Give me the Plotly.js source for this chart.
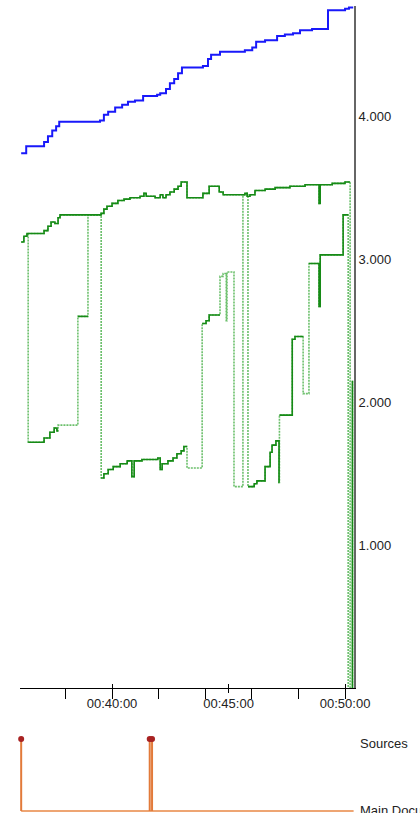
<!DOCTYPE html>
<html>
<head>
<meta charset="utf-8">
<script src="https://cdn.plot.ly/plotly-3.0.1.min.js"></script>
<style>
  html, body { margin: 0; padding: 0; background: #fff; overflow: hidden; }
  #chart { width: 420px; height: 813px; }
</style>
</head>
<body>
<div id="chart"></div>
<script>
// ---------- DATA ----------
const DAY = '2000-01-01 ';

// Blue series (step)
const blueTime = ['00:36:06','00:36:19','00:37:05','00:37:15','00:37:26','00:37:36','00:37:44','00:39:29','00:39:39','00:39:50',
  '00:40:08','00:40:26','00:40:41','00:40:59','00:41:20','00:41:56','00:42:04','00:42:19','00:42:29','00:42:40',
  '00:42:50','00:43:00','00:43:54','00:44:07','00:44:15','00:44:38','00:45:42','00:46:01','00:46:11','00:46:34',
  '00:47:05','00:47:25','00:47:46','00:48:04','00:48:35','00:49:16','00:50:00','00:50:10','00:50:21'];
const blueVal = [3.74,3.79,3.82,3.86,3.90,3.93,3.96,3.97,4.01,4.03,
  4.06,4.08,4.10,4.11,4.14,4.15,4.16,4.19,4.23,4.26,
  4.30,4.34,4.35,4.40,4.43,4.45,4.46,4.48,4.52,4.53,
  4.56,4.57,4.58,4.60,4.61,4.74,4.75,4.76,4.76];

// Upper green series (last point = drop to zero)
const upperTime = ['00:36:06','00:36:13','00:36:21','00:37:05','00:37:15','00:37:23','00:37:33','00:37:41','00:37:46','00:39:32',
  '00:39:39','00:39:47','00:40:00','00:40:15','00:40:31','00:40:46','00:41:12','00:41:22','00:41:28','00:41:51',
  '00:42:04','00:42:11','00:42:19','00:42:29','00:42:40','00:42:50','00:42:58','00:43:13','00:43:54','00:44:10',
  '00:44:36','00:44:46','00:45:42','00:45:48','00:45:55','00:46:08','00:46:34','00:47:00','00:47:38','00:48:17',
  '00:48:53','00:48:56','00:49:27','00:50:00','00:50:13','00:50:13'];
const upperVal = [3.12,3.16,3.18,3.20,3.23,3.26,3.25,3.29,3.31,3.32,
  3.35,3.37,3.39,3.41,3.42,3.43,3.44,3.46,3.44,3.43,
  3.45,3.43,3.45,3.47,3.49,3.51,3.54,3.43,3.46,3.51,
  3.47,3.45,3.46,3.44,3.45,3.48,3.49,3.50,3.51,3.52,
  3.39,3.52,3.53,3.54,3.54,0];
const upperSolidRuns = [[0, 44]];

// Lower green series
const lowerTime = ['00:36:24','00:36:24','00:37:05','00:37:20','00:37:31','00:37:38','00:37:41','00:38:32','00:38:58','00:39:32',
  '00:39:32','00:39:39','00:39:50','00:40:03','00:40:21','00:40:39','00:40:51','00:40:57','00:41:17','00:41:58',
  '00:42:04','00:42:09','00:42:24','00:42:37','00:42:47','00:42:58','00:43:05','00:43:13','00:43:52','00:44:02',
  '00:44:10','00:44:38','00:44:46','00:44:54','00:44:56','00:45:14','00:45:37','00:45:50','00:46:06','00:46:13',
  '00:46:34','00:46:47','00:46:52','00:47:02','00:47:10','00:47:11','00:47:44','00:47:51','00:48:12','00:48:27',
  '00:48:53','00:48:56','00:49:55','00:50:08'];
const lowerVal = [3.18,1.72,1.75,1.79,1.82,1.80,1.84,2.60,3.31,3.32,
  1.47,1.50,1.53,1.55,1.57,1.59,1.48,1.59,1.60,1.61,
  1.53,1.57,1.59,1.61,1.64,1.66,1.69,1.54,2.55,2.57,
  2.61,2.88,2.90,2.57,2.91,1.41,3.45,1.41,1.43,1.45,
  1.55,1.65,1.70,1.73,1.44,1.91,2.44,2.46,2.06,2.97,
  2.67,3.03,3.31,0];
const lowerSolidRuns = [[1,5],[7,7],[10,26],[28,30],[37,44],[45,47],[49,52]];

// Short tail series at the right edge
const tailTime = ['00:50:19','00:50:19'];
const tailVal = [2.15, 0];
const tailSolidRuns = [[0,1]];

// Bottom swimlane
const laneNames = ['Main Document', 'Sources'];
const eventTime = ['00:36:06','00:41:37','00:41:43'];
const mainDocSpan = ['00:36:06','00:50:22'];

// Axis ticks
const yTickVals = [1, 2, 3, 4];
const yTickText = ['1.000', '2.000', '3.000', '4.000'];
const xTickTimes = ['00:35:00','00:40:00','00:45:00','00:50:00'];
const xRange = ['00:36:03', '00:50:23'];

// ---------- BUILD ----------
const T = s => DAY + s;
function solidPath(times, vals, runs) {
  const xs = [], ys = [];
  runs.forEach(([a, b]) => {
    for (let i = a; i <= b; i++) { xs.push(T(times[i])); ys.push(vals[i]); }
    if (b + 1 < times.length) { xs.push(T(times[b + 1])); ys.push(vals[b]); }
    xs.push(null); ys.push(null);
  });
  return {xs, ys};
}

const SOLID_GREEN = 'rgb(22,138,22)';
const DASH_GREEN = 'rgba(70,175,70,0.8)';
const traces = [];

// empty traces so the overlay tick axes get drawn
traces.push({type: 'scatter', mode: 'lines', x: [], y: [], xaxis: 'x3', yaxis: 'y', hoverinfo: 'skip', showlegend: false});
traces.push({type: 'scatter', mode: 'lines', x: [], y: [], xaxis: 'x4', yaxis: 'y', hoverinfo: 'skip', showlegend: false});

function greenSeries(times, vals, runs) {
  traces.push({type: 'scatter', mode: 'lines', x: times.map(T), y: vals,
    line: {shape: 'hv', color: DASH_GREEN, width: 1.6, dash: '2px,1px'},
    hoverinfo: 'skip', showlegend: false, xaxis: 'x', yaxis: 'y'});
  const sp = solidPath(times, vals, runs);
  traces.push({type: 'scatter', mode: 'lines', x: sp.xs, y: sp.ys, connectgaps: false,
    line: {shape: 'hv', color: SOLID_GREEN, width: 1.6},
    hoverinfo: 'skip', showlegend: false, xaxis: 'x', yaxis: 'y'});
}
greenSeries(lowerTime, lowerVal, lowerSolidRuns);
greenSeries(tailTime, tailVal, tailSolidRuns);
greenSeries(upperTime, upperVal, upperSolidRuns);

traces.push({type: 'scatter', mode: 'lines', x: blueTime.map(T), y: blueVal,
  line: {shape: 'hv', color: 'rgb(25,25,250)', width: 2}, hoverinfo: 'skip', showlegend: false,
  xaxis: 'x', yaxis: 'y'});

// Bottom lanes
traces.push({type: 'scatter', mode: 'lines', x: mainDocSpan.map(T), y: [0, 0],
  line: {color: 'rgb(238,165,115)', width: 2}, hoverinfo: 'skip', showlegend: false,
  xaxis: 'x2', yaxis: 'y2'});
const ex = [], ey = [];
eventTime.forEach(t => { ex.push(T(t), T(t), null); ey.push(1, 0, null); });
traces.push({type: 'scatter', mode: 'lines', x: ex, y: ey,
  line: {color: 'rgb(226,122,58)', width: 2}, hoverinfo: 'skip', showlegend: false,
  xaxis: 'x2', yaxis: 'y2'});
traces.push({type: 'scatter', mode: 'markers', x: eventTime.map(T), y: eventTime.map(() => 1),
  marker: {color: 'rgb(168,34,34)', size: 6}, cliponaxis: false, hoverinfo: 'skip', showlegend: false,
  xaxis: 'x2', yaxis: 'y2'});

const FONT = 'Liberation Sans, Arial, sans-serif';
const range = xRange.map(T);

const layout = {
  width: 420, height: 813,
  margin: {l: 20, r: 66, t: 6, b: 0},
  paper_bgcolor: '#fff', plot_bgcolor: '#fff',
  showlegend: false,
  font: {family: FONT, size: 13, color: '#222'},
  xaxis: {
    type: 'date', range: range, anchor: 'y',
    tickvals: xTickTimes.map(T), tickformat: '%H:%M:%S',
    ticks: 'outside', ticklen: 4, tickcolor: '#000', tickwidth: 1,
    showline: true, linecolor: '#000', linewidth: 1,
    showgrid: false, zeroline: false, ticklabelstandoff: -1,
    tickfont: {family: FONT, size: 13, color: '#222'}
  },
  xaxis3: {
    type: 'date', range: range, overlaying: 'x', anchor: 'y',
    tickvals: xTickTimes.map(T), ticks: 'inside', ticklen: 4, tickcolor: '#000',
    showticklabels: false, showline: false, showgrid: false, zeroline: false
  },
  xaxis4: {
    type: 'date', range: range, overlaying: 'x', anchor: 'y',
    dtick: 120000, tick0: T('00:00:00'), ticks: 'outside', ticklen: 10, tickcolor: '#000',
    showticklabels: false, showline: false, showgrid: false, zeroline: false
  },
  yaxis: {
    domain: [0.1545, 1], range: [0, 4.77], side: 'right', anchor: 'x',
    tickvals: yTickVals, ticktext: yTickText, ticks: '',
    showline: true, linecolor: '#666', linewidth: 2,
    showgrid: false, zeroline: false,
    tickfont: {family: FONT, size: 13, color: '#222'}
  },
  xaxis2: {type: 'date', range: range, anchor: 'y2', visible: false},
  yaxis2: {domain: [0, 0.1006], range: [-0.028, 1.1], anchor: 'x2', visible: false},
  annotations: [
    {xref: 'paper', x: 1, xshift: 4, xanchor: 'left', yref: 'y2', y: 1, yshift: -4, yanchor: 'middle',
     text: laneNames[1], showarrow: false, font: {family: FONT, size: 13, color: '#222'}},
    {xref: 'paper', x: 1, xshift: 4, xanchor: 'left', yref: 'y2', y: 0, yshift: 0, yanchor: 'middle',
     text: laneNames[0], showarrow: false, font: {family: FONT, size: 13, color: '#222'}}
  ]
};

Plotly.newPlot('chart', traces, layout, {displayModeBar: false, staticPlot: true});
</script>
</body>
</html>
